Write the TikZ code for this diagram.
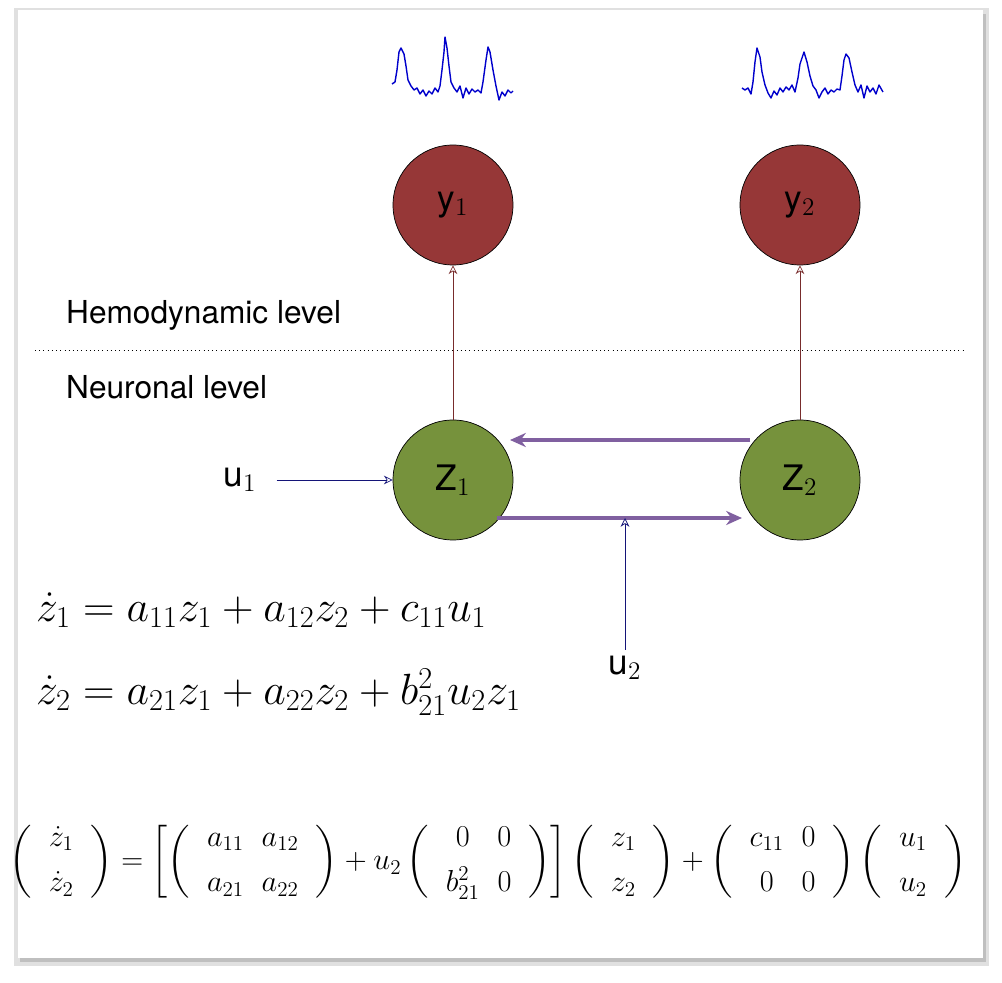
\documentclass[tikz,border=0pt]{standalone}
\usepackage{amsmath}
\usepackage{fontspec}
\setmainfont{TeX Gyre Heros}
\usetikzlibrary{arrows.meta,positioning,calc}
\definecolor{hemored}{RGB}{150,55,55}
\definecolor{neurogreen}{RGB}{118,146,60}
\definecolor{linkpurple}{RGB}{128,96,160}
\definecolor{inputblue}{RGB}{20,20,120}
\begin{document}
\begin{tikzpicture}[x=0.02cm,y=-0.02cm,
    region/.style = {shape=circle, draw=black, minimum size=2.4cm, font=\fontsize{20}{22}\selectfont},
    hemo/.style = {region, fill=hemored},
    neuro/.style = {region, fill=neurogreen},
    readout/.style = {->, >={Stealth[length=5pt,width=5pt,open]}, hemored!80!black, thin},
    coupling/.style = {-{Stealth[length=9pt,width=8pt]}, linkpurple, line width=2.6pt},
    drive/.style = {->, >={Stealth[length=5pt,width=5pt,open]}, inputblue, thin},
    bold/.style = {blue!80!black, line width=0.8pt, line join=round}]
    \useasboundingbox (0,0) rectangle (1002,983);
    % panel with shadow
    \fill[black!12] (14,8) rectangle (989,966);
    \fill[black!25] (20,14) rectangle (986,962);
    \fill[white] (18,10) rectangle (983,958);
    % regions
    \node[hemo] (y1) at (453,205) {y$_1$};
    \node[hemo] (y2) at (800,205) {y$_2$};
    \node[neuro] (z1) at (453,480) {Z$_1$};
    \node[neuro] (z2) at (800,480) {Z$_2$};
    % levels
    \draw[dotted] (35,350) -- (965,350);
    \node[anchor=west, font=\fontsize{18}{20}\selectfont] (hemolevel) at (60,315) {Hemodynamic level};
    \node[anchor=west, font=\fontsize{18}{20}\selectfont] (neurolevel) at (60,387) {Neuronal level};
    \draw[readout] (z1) -- (y1);
    \draw[readout] (z2) -- (y2);
    % coupling
    \coordinate (c21a) at (750,440);
    \coordinate (c21b) at (510,440);
    \coordinate (c12a) at (497,518);
    \coordinate (c12b) at (742,518);
    \draw[coupling] (c21a) -- (c21b);
    \draw[coupling] (c12a) -- (c12b);
    % inputs
    \node[font=\fontsize{20}{22}\selectfont] (u1) at (240,480) {u$_1$};
    \node[font=\fontsize{20}{22}\selectfont] (u2) at (625,668) {u$_2$};
    \coordinate (m) at (625,518);
    \draw[drive] (u1.east) ++(14,0) -- (z1.west);
    \draw[drive] (u2.north) -- (m);
    % BOLD traces
    \draw[bold] (392,84) -- (395,82) -- (397,70) -- (399,52) -- (401,48) -- (404,54) -- (406,66) -- (408,80) -- (411,86) -- (414,90) -- (417,88) -- (420,94) -- (423,90) -- (426,96) -- (429,91) -- (432,94) -- (435,88) -- (438,92) -- (440,86) -- (442,70) -- (444,52) -- (445,37) -- (447,48) -- (449,66) -- (451,82) -- (454,88) -- (457,92) -- (460,86) -- (463,98) -- (466,88) -- (469,94) -- (472,89) -- (475,92) -- (478,90) -- (481,93) -- (483,82) -- (486,60) -- (488,47) -- (490,52) -- (493,70) -- (496,86) -- (499,100) -- (502,92) -- (505,96) -- (508,90) -- (511,93) -- (513,91);
    \draw[bold] (742,88) -- (745,90) -- (748,88) -- (751,94) -- (753,82) -- (755,62) -- (757,48) -- (760,57) -- (762,72) -- (765,85) -- (768,93) -- (771,98) -- (774,91) -- (777,95) -- (780,88) -- (783,92) -- (786,87) -- (789,90) -- (792,85) -- (795,92) -- (798,78) -- (800,64) -- (802,58) -- (804,52) -- (807,62) -- (810,76) -- (813,86) -- (816,90) -- (819,98) -- (822,92) -- (825,88) -- (828,94) -- (831,90) -- (834,92) -- (837,89) -- (840,90) -- (842,76) -- (844,60) -- (846,54) -- (849,58) -- (852,72) -- (855,85) -- (858,92) -- (861,85) -- (864,98) -- (867,86) -- (870,92) -- (873,88) -- (876,94) -- (879,85) -- (883,92);
    % equations
    \node[anchor=west, font=\fontsize{25}{28}\selectfont] (eq1) at (30,610)
        {$\dot z_1 = a_{11}z_1 + a_{12}z_2 + c_{11}u_1$};
    \node[anchor=west, font=\fontsize{25}{28}\selectfont] (eq2) at (30,692)
        {$\dot z_2 = a_{21}z_1 + a_{22}z_2 + b^2_{21}u_2z_1$};
    \node[font=\fontsize{17}{20}\selectfont] (eqm) at (488,862)
        {$\begin{pmatrix}\;\;\dot z_1\;\;\\[6pt] \;\;\dot z_2\;\;\end{pmatrix}
        = \left[\begin{pmatrix}\;\;a_{11} & a_{12}\;\;\\[6pt] \;\;a_{21} & a_{22}\;\;\end{pmatrix}
        + u_2\begin{pmatrix}\;\;0 & 0\;\;\\[6pt] \;\;b^2_{21} & 0\;\;\end{pmatrix}\right]
        \begin{pmatrix}\;\;z_1\;\;\\[6pt] \;\;z_2\;\;\end{pmatrix}
        + \begin{pmatrix}\;\;c_{11} & 0\;\;\\[6pt] \;\;0 & 0\;\;\end{pmatrix}
        \begin{pmatrix}\;\;u_1\;\;\\[6pt] \;\;u_2\;\;\end{pmatrix}$};
\end{tikzpicture}
\end{document}
